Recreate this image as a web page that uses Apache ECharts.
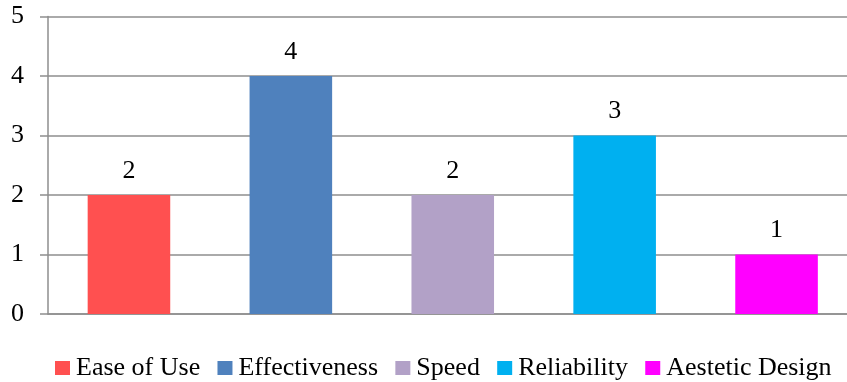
<!DOCTYPE html>
<html>
<head>
<meta charset="utf-8">
<script src="https://cdn.jsdelivr.net/npm/echarts@6/dist/echarts.min.js"></script>
<style>
  html, body { margin: 0; padding: 0; background: #ffffff; overflow: hidden; }
  /* the plot runs slightly past the right edge of the view */
  #chart { width: 858px; height: 382px; }
</style>
</head>
<body>
<div id="chart"></div>
<script>
// Survey ratings per criterion
const categories = ['Ease of Use', 'Effectiveness', 'Speed', 'Reliability', 'Aestetic Design'];
const ratings = [2, 4, 2, 3, 1];
const barColors = ['#FF5050', '#4F81BD', '#B2A1C7', '#00B0F0', '#FF00FF'];
const yTicks = [0, 1, 2, 3, 4, 5];

const FONT = '"Liberation Serif", "Times New Roman", serif';
const GRID_GREY = '#8e8e8e';

// One series per criterion so each gets its own legend entry;
// stacking keeps every bar centred in its own category slot.
const series = categories.map((name, i) => ({
  name: name,
  type: 'bar',
  stack: 'all',
  barWidth: '51%',
  itemStyle: { color: barColors[i] },
  label: {
    show: true,
    position: 'top',
    distance: 11,
    color: '#000',
    fontFamily: FONT,
    fontSize: 26,
    formatter: p => (p.value === '-' || p.value == null ? '' : String(p.value))
  },
  data: categories.map((c, j) => (j === i ? ratings[i] : '-'))
}));

const chart = echarts.init(document.getElementById('chart'), null, { renderer: 'canvas' });
chart.setOption({
  animation: false,
  backgroundColor: '#ffffff',
  textStyle: { fontFamily: FONT, color: '#000' },
  grid: { left: 48, top: 16.5, right: 0.5, height: 297.5, containLabel: false },
  legend: {
    data: categories,
    left: 50,
    top: 350,
    icon: 'rect',
    itemWidth: 15,
    itemHeight: 14,
    itemGap: 17.3,
    textStyle: { fontFamily: FONT, fontSize: 26, color: '#000', padding: [0, 0, 0, 1] }
  },
  xAxis: {
    type: 'category',
    data: categories,
    axisLine: { show: true, lineStyle: { color: GRID_GREY, width: 1.5 } },
    axisTick: { show: false },
    axisLabel: { show: false },
    splitLine: { show: false }
  },
  yAxis: {
    type: 'value',
    min: yTicks[0],
    max: yTicks[yTicks.length - 1],
    interval: 1,
    axisLine: { show: true, lineStyle: { color: GRID_GREY, width: 1.5 } },
    axisTick: { show: true, length: 8, lineStyle: { color: GRID_GREY, width: 1.5 } },
    axisLabel: { margin: 24, fontFamily: FONT, fontSize: 26, color: '#000' },
    splitLine: { show: true, lineStyle: { color: GRID_GREY, width: 1.5 } }
  },
  series: series
});
</script>
</body>
</html>
